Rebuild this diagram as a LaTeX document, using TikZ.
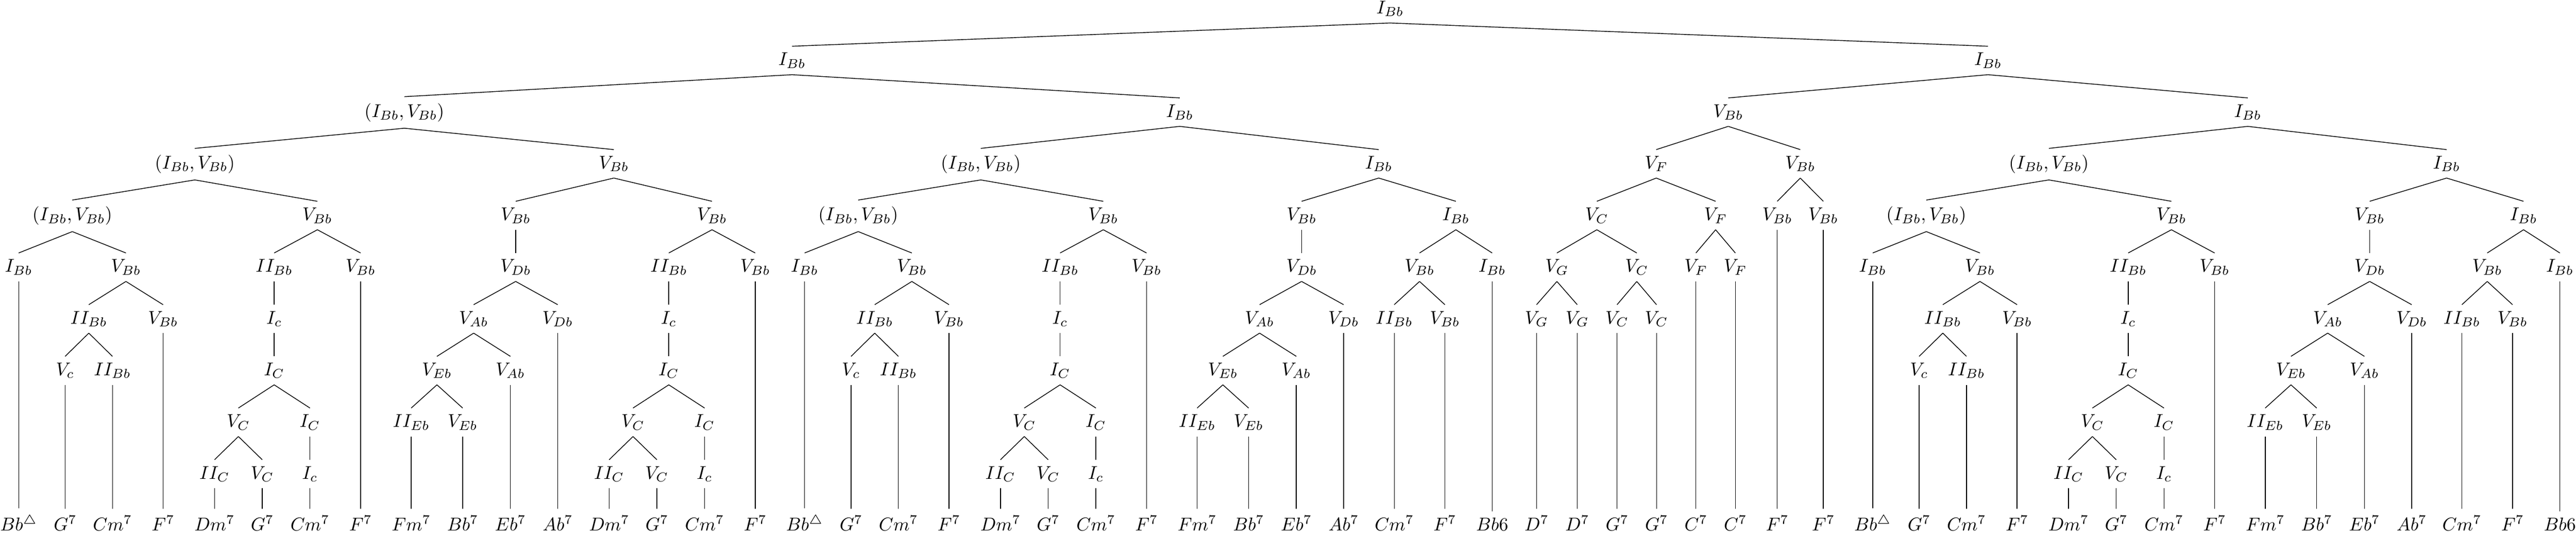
\documentclass[tikz,border=0pt]{standalone}
\usepackage{amsmath}
\usepackage{amssymb}
\begin{document}
\begin{tikzpicture}[x=0.2247pt, y=-27.975pt, every node/.style={anchor=base}]
    \useasboundingbox (0,-0.2651) rectangle (6208,10.0402);
    % upper levels
    \node (root) at (3349.85,0) {$I_{Bb}$};
    \node (l) at (1908.8,1) {$I_{Bb}$};
    \node (r) at (4790.9,1) {$I_{Bb}$};
    \node (ll) at (974.45,2) {$(I_{Bb},V_{Bb})$};
    \node (lr) at (2843.1,2) {$I_{Bb}$};
    \node (rl) at (4164.95,2) {$V_{Bb}$};
    \node (rr) at (5416.85,2) {$I_{Bb}$};
    \node (lll) at (469.6,3) {$(I_{Bb},V_{Bb})$};
    \node (llr) at (1479.3,3) {$V_{Bb}$};
    \node (lrl) at (2363.6,3) {$(I_{Bb},V_{Bb})$};
    \node (lrr) at (3322.6,3) {$I_{Bb}$};
    \node (rll) at (3991.4,3) {$V_F$};
    \node (rlr) at (4338.5,3) {$V_{Bb}$};
    \node (rrl) at (4937.6,3) {$(I_{Bb},V_{Bb})$};
    \node (rrr) at (5896.1,3) {$I_{Bb}$};
    % (I,V) blocks
    \foreach \n/\s in {1/45,2/1939,3/4513}{
        \node (a\n) at (\s+129.25,4) {$(I_{Bb},V_{Bb})$};
        \node (a\n-I) at (\s,5) {$I_{Bb}$};
        \node (a\n-V) at (\s+258.5,5) {$V_{Bb}$};
        \node (a\n-II) at (\s+169,6) {$II_{Bb}$};
        \node (a\n-V6) at (\s+348,6) {$V_{Bb}$};
        \node (a\n-Vc) at (\s+112,7) {$V_c$};
        \node (a\n-II7) at (\s+226,7) {$II_{Bb}$};
        \node (a\n-1) at (\s,10) {$Bb^{\triangle}$};
        \node (a\n-2) at (\s+112,10) {$G^7$};
        \node (a\n-3) at (\s+226,10) {$Cm^7$};
        \node (a\n-4) at (\s+348,10) {$F^7$};
        \foreach \p/\c in {a\n/a\n-I, a\n/a\n-V, a\n-V/a\n-II, a\n-V/a\n-V6, a\n-II/a\n-Vc, a\n-II/a\n-II7, a\n-I/a\n-1, a\n-Vc/a\n-2, a\n-II7/a\n-3, a\n-V6/a\n-4}
            \draw (\p.south) -- (\c.north);
    }
    % II-V blocks over C
    \foreach \n/\s in {1/517,2/1468,3/2411,4/4985}{
        \node (b\n) at (\s+247.875,4) {$V_{Bb}$};
        \node (b\n-II) at (\s+143.75,5) {$II_{Bb}$};
        \node (b\n-V) at (\s+352,5) {$V_{Bb}$};
        \node (b\n-Ic) at (\s+143.75,6) {$I_c$};
        \node (b\n-IC) at (\s+143.75,7) {$I_C$};
        \node (b\n-VC) at (\s+57.5,8) {$V_C$};
        \node (b\n-IC8) at (\s+230,8) {$I_C$};
        \node (b\n-II9) at (\s,9) {$II_C$};
        \node (b\n-V9) at (\s+115,9) {$V_C$};
        \node (b\n-I9) at (\s+230,9) {$I_c$};
        \node (b\n-1) at (\s,10) {$Dm^7$};
        \node (b\n-2) at (\s+115,10) {$G^7$};
        \node (b\n-3) at (\s+230,10) {$Cm^7$};
        \node (b\n-4) at (\s+352,10) {$F^7$};
        \foreach \p/\c in {b\n/b\n-II, b\n/b\n-V, b\n-II/b\n-Ic, b\n-Ic/b\n-IC, b\n-IC/b\n-VC, b\n-IC/b\n-IC8, b\n-VC/b\n-II9, b\n-VC/b\n-V9, b\n-IC8/b\n-I9, b\n-II9/b\n-1, b\n-V9/b\n-2, b\n-I9/b\n-3, b\n-V/b\n-4}
            \draw (\p.south) -- (\c.north);
    }
    % dominant chains over Db
    \foreach \n/\s in {1/991,2/2885,3/5459}{
        \node (c\n) at (\s+251.75,4) {$V_{Bb}$};
        \node (c\n-Db) at (\s+251.75,5) {$V_{Db}$};
        \node (c\n-Ab) at (\s+150.5,6) {$V_{Ab}$};
        \node (c\n-Db6) at (\s+353,6) {$V_{Db}$};
        \node (c\n-Eb) at (\s+62,7) {$V_{Eb}$};
        \node (c\n-Ab7) at (\s+239,7) {$V_{Ab}$};
        \node (c\n-II8) at (\s,8) {$II_{Eb}$};
        \node (c\n-V8) at (\s+124,8) {$V_{Eb}$};
        \node (c\n-1) at (\s,10) {$Fm^7$};
        \node (c\n-2) at (\s+124,10) {$Bb^7$};
        \node (c\n-3) at (\s+239,10) {$Eb^7$};
        \node (c\n-4) at (\s+353,10) {$Ab^7$};
        \foreach \p/\c in {c\n/c\n-Db, c\n-Db/c\n-Ab, c\n-Db/c\n-Db6, c\n-Ab/c\n-Eb, c\n-Ab/c\n-Ab7, c\n-Eb/c\n-II8, c\n-Eb/c\n-V8, c\n-II8/c\n-1, c\n-V8/c\n-2, c\n-Ab7/c\n-3, c\n-Db6/c\n-4}
            \draw (\p.south) -- (\c.north);
    }
    % endings
    \foreach \n/\s in {1/3360,2/5933}{
        \node (e\n) at (\s+148.5,4) {$I_{Bb}$};
        \node (e\n-V) at (\s+61,5) {$V_{Bb}$};
        \node (e\n-I) at (\s+236,5) {$I_{Bb}$};
        \node (e\n-II) at (\s,6) {$II_{Bb}$};
        \node (e\n-V6) at (\s+122,6) {$V_{Bb}$};
        \node (e\n-1) at (\s,10) {$Cm^7$};
        \node (e\n-2) at (\s+122,10) {$F^7$};
        \node (e\n-3) at (\s+236,10) {$Bb6$};
        \foreach \p/\c in {e\n/e\n-V, e\n/e\n-I, e\n-V/e\n-II, e\n-V/e\n-V6, e\n-II/e\n-1, e\n-V6/e\n-2, e\n-I/e\n-3}
            \draw (\p.south) -- (\c.north);
    }
    % bridge
    \node (m-C) at (3848.25,4) {$V_C$};
    \node (m-F) at (4134.5,4) {$V_F$};
    \node (m-B1) at (4283,4) {$V_{Bb}$};
    \node (m-B2) at (4394,4) {$V_{Bb}$};
    \node (m-G) at (3752,5) {$V_G$};
    \node (m-C5) at (3944.5,5) {$V_C$};
    \node (m-F1) at (4087,5) {$V_F$};
    \node (m-F2) at (4182,5) {$V_F$};
    \node (m-G1) at (3703,6) {$V_G$};
    \node (m-G2) at (3801,6) {$V_G$};
    \node (m-C1) at (3897,6) {$V_C$};
    \node (m-C2) at (3992,6) {$V_C$};
    \node (m-1) at (3703,10) {$D^7$};
    \node (m-2) at (3801,10) {$D^7$};
    \node (m-3) at (3897,10) {$G^7$};
    \node (m-4) at (3992,10) {$G^7$};
    \node (m-5) at (4087,10) {$C^7$};
    \node (m-6) at (4182,10) {$C^7$};
    \node (m-7) at (4283,10) {$F^7$};
    \node (m-8) at (4394,10) {$F^7$};
    \foreach \p/\c in {root/l, root/r, l/ll, l/lr, r/rl, r/rr, ll/lll, ll/llr, lr/lrl, lr/lrr, rl/rll, rl/rlr, rr/rrl, rr/rrr, lll/a1, lll/b1, llr/c1, llr/b2, lrl/a2, lrl/b3, lrr/c2, lrr/e1, rrl/a3, rrl/b4, rrr/c3, rrr/e2, rll/m-C, rll/m-F, rlr/m-B1, rlr/m-B2, m-C/m-G, m-C/m-C5, m-F/m-F1, m-F/m-F2, m-G/m-G1, m-G/m-G2, m-C5/m-C1, m-C5/m-C2, m-G1/m-1, m-G2/m-2, m-C1/m-3, m-C2/m-4, m-F1/m-5, m-F2/m-6, m-B1/m-7, m-B2/m-8}
        \draw (\p.south) -- (\c.north);
\end{tikzpicture}
\end{document}
